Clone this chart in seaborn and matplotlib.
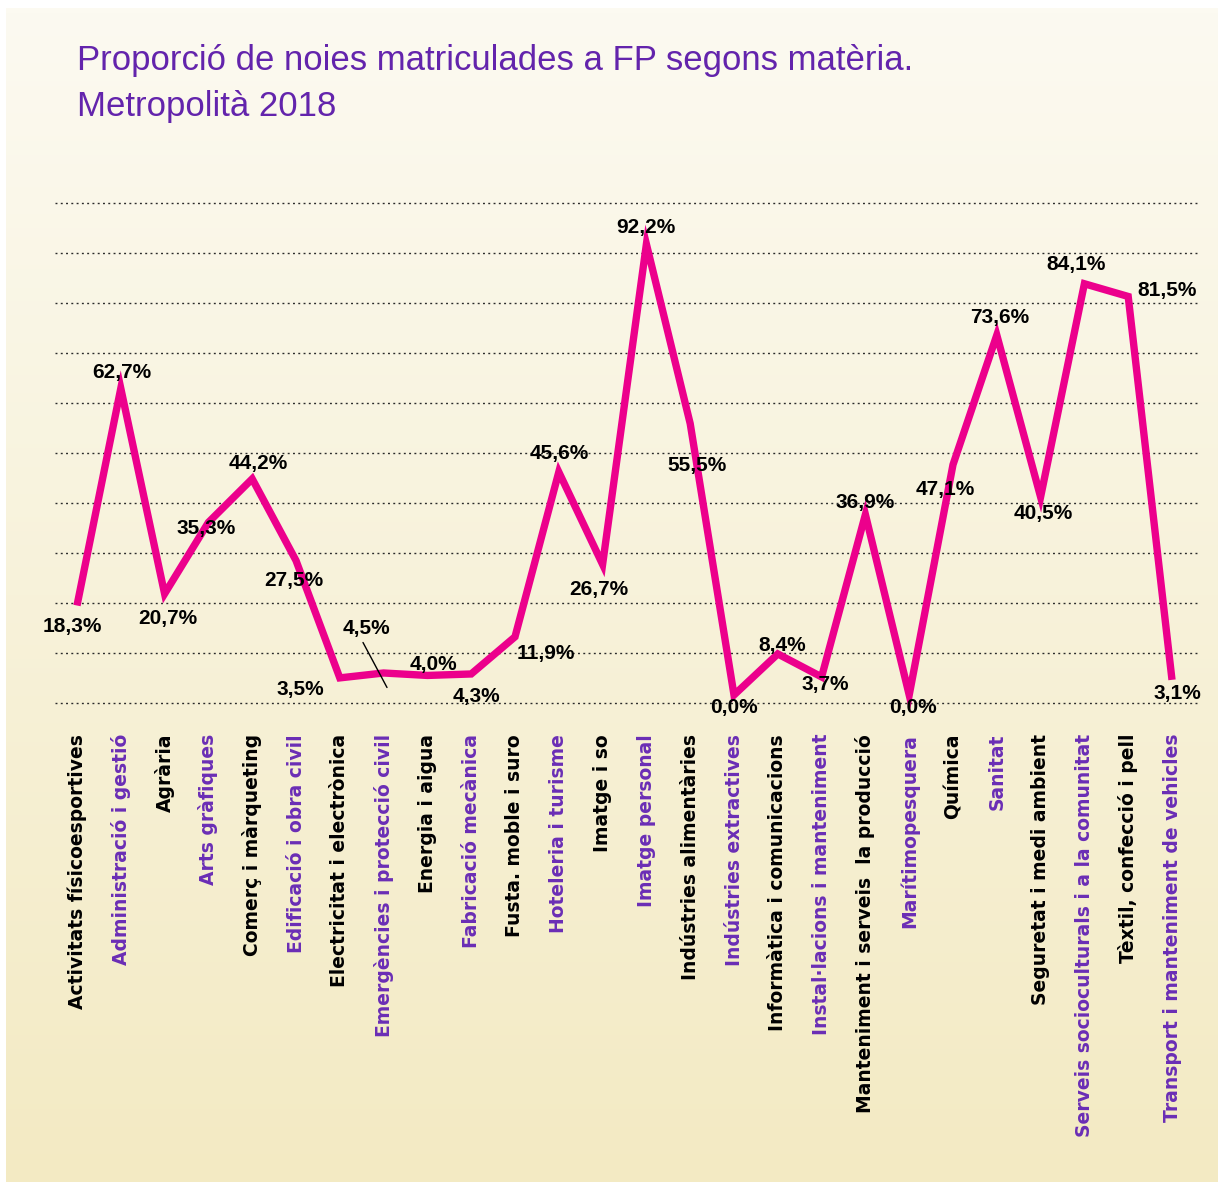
import numpy as np
import pandas as pd
import matplotlib
matplotlib.use("Agg")
import matplotlib.pyplot as plt
import matplotlib.transforms as mtransforms
import seaborn as sns

# ---------------- data ----------------
categories = [
    "Activitats físicoesportives",
    "Administració i gestió",
    "Agrària",
    "Arts gràfiques",
    "Comerç i màrqueting",
    "Edificació i obra civil",
    "Electricitat i electrònica",
    "Emergències i protecció civil",
    "Energia i aigua",
    "Fabricació mecànica",
    "Fusta. moble i suro",
    "Hoteleria i turisme",
    "Imatge i so",
    "Imatge personal",
    "Indústries alimentàries",
    "Indústries extractives",
    "Informàtica i comunicacions",
    "Instal·lacions i manteniment",
    "Manteniment i serveis  la producció",
    "Marítimopesquera",
    "Química",
    "Sanitat",
    "Seguretat i medi ambient",
    "Serveis socioculturals i a la comunitat",
    "Tèxtil, confecció i pell",
    "Transport i manteniment de vehicles",
]
values = [18.3, 62.7, 20.7, 35.3, 44.2, 27.5, 3.5, 4.5, 4.0, 4.3, 11.9, 45.6,
          26.7, 92.2, 55.5, 0.0, 8.4, 3.7, 36.9, 0.0, 47.1, 73.6, 40.5, 84.1,
          81.5, 3.1]
title_line1 = "Proporció de noies matriculades a FP segons matèria."
title_line2 = "Metropolità 2018"

# label placement offsets in pixels (dx right, dy down) -- layout only
label_offsets = [(-5, 21), (1, -16), (3, 25), (-2, 6), (6, -15), (-2, 20),
                 (-39, 12), (-17, -44), (6, -11), (5, 23), (31, 17), (0, -19),
                 (-4, 25), (-1, -17), (7, 42), (0, 12), (4, -8), (4, 8),
                 (0, -12), (4, 12), (-8, 25), (3, -18), (3, 17), (-8, -19),
                 (39, -6), (5, 14)]

df = pd.DataFrame({"idx": np.arange(len(categories)), "cat": categories, "val": values})

# ---------------- style ----------------
sns.set_theme(style="white")
plt.rcParams["font.family"] = ["Liberation Sans", "DejaVu Sans"]

W, H = 1222, 1182
fig = plt.figure(figsize=(W / 100, H / 100), dpi=100)
fig.patch.set_facecolor("white")

# gradient background panel
bg = fig.add_axes([6 / W, 0, (1218 - 6) / W, (H - 8) / H], zorder=-10)
grad = np.linspace(0, 1, 256).reshape(-1, 1)
top = np.array([252, 250, 241]) / 255
bot = np.array([243, 234, 195]) / 255
img = top[None, None, :] * (1 - grad[:, :, None]) + bot[None, None, :] * grad[:, :, None]
bg.imshow(img, aspect="auto", extent=[0, 1, 0, 1], origin="upper")
bg.set_axis_off()

# main axes: x from px 55 to 1197, y from px 203 to 703
ax_l, ax_r = 55, 1197
ax_t, ax_b = 203, 703
ax = fig.add_axes([ax_l / W, 1 - ax_b / H, (ax_r - ax_l) / W, (ax_b - ax_t) / H])
ax.set_facecolor("none")
x0_px, step_px = 77, 43.8
n = len(categories)
ax.set_xlim(-(x0_px - ax_l) / step_px, (n - 1) + (ax_r - (x0_px + step_px * (n - 1))) / step_px)
# value 0 sits at px 695, 4.89 px per percentage point
zero_px, px_per = 695, 4.89
ax.set_ylim((zero_px - ax_b) / px_per, (zero_px - ax_t) / px_per)

# 11 evenly spaced dotted guide lines across the plot area
ax.hlines(np.linspace(0, 1, 11), 0, 1, transform=ax.transAxes, colors="#2a2a2a",
          lw=1.0, linestyles=[(0, (1.4, 2.4))], zorder=1, clip_on=False)

line_color = "#EC008C"
sns.lineplot(data=df, x="idx", y="val", ax=ax, color=line_color, lw=5.3,
             zorder=3, clip_on=False, solid_joinstyle="miter", solid_capstyle="butt")

for s in ax.spines.values():
    s.set_visible(False)
ax.set_yticks([])
ax.set_xlabel("")
ax.set_ylabel("")

purple = "#6A2DB5"
ax.set_xticks(df["idx"])
ax.set_xticklabels(categories, rotation=90, fontsize=13.5, fontweight="bold",
                   family=["DejaVu Sans"], va="top", ha="center")
ax.tick_params(axis="x", length=0, pad=22.3)
for i, lab in enumerate(ax.get_xticklabels()):
    lab.set_color("black" if i % 2 == 0 else purple)

vfont = ["Liberation Sans", "DejaVu Sans"]
for i, v in enumerate(values):
    dx, dy = label_offsets[i]
    txt = f"{v:.1f}%".replace(".", ",")
    ax.annotate(txt, xy=(i, v), xytext=(dx * 0.72, -dy * 0.72), textcoords="offset points",
                ha="center", va="center", fontsize=15, fontweight="bold",
                family=vfont, color="black", zorder=5, annotation_clip=False)

# leader line for the "Emergències" label
i_lead = 7
off_start = mtransforms.ScaledTranslation(-20.6 / 100, 30.5 / 100, fig.dpi_scale_trans)
off_end = mtransforms.ScaledTranslation(3.4 / 100, -14.5 / 100, fig.dpi_scale_trans)
p1 = (ax.transData + off_start).transform((i_lead, values[i_lead]))
p2 = (ax.transData + off_end).transform((i_lead, values[i_lead]))
fig.add_artist(plt.Line2D([p1[0] / W, p2[0] / W], [p1[1] / H, p2[1] / H],
                          transform=fig.transFigure, color="black", lw=1.0, zorder=6))

# title
tfont = ["Liberation Sans", "DejaVu Sans"]
title_color = "#6324AC"
fig.text(77 / W, 1 - 70 / H, title_line1, ha="left", va="baseline", fontsize=25,
         family=tfont, color=title_color)
fig.text(77 / W, 1 - 116 / H, title_line2, ha="left", va="baseline", fontsize=25,
         family=tfont, color=title_color)

fig.savefig("out.png", dpi=100)
